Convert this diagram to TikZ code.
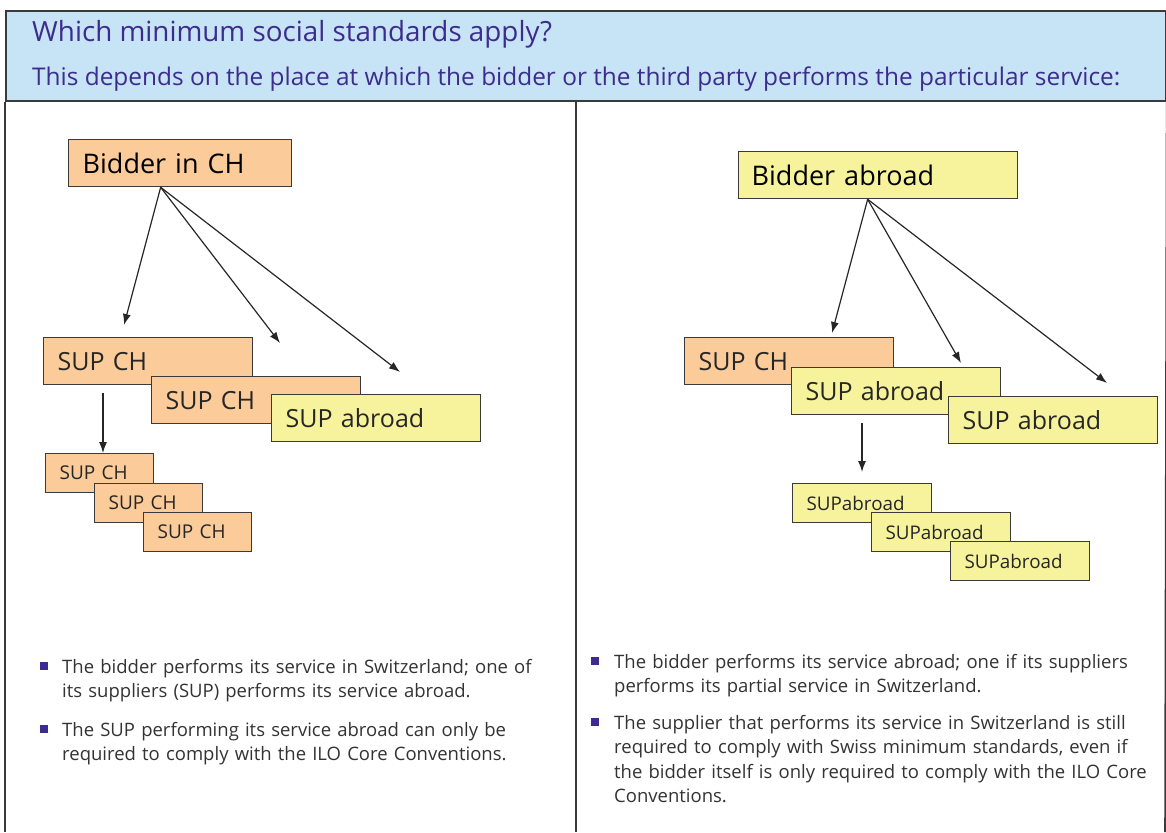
\documentclass[tikz,border=0pt]{standalone}
\usepackage{fontspec}
\setmainfont{Open Sans}
\usetikzlibrary{arrows.meta,positioning}

\definecolor{peach}{HTML}{FBCB9A}
\definecolor{lemon}{HTML}{F7F39C}
\definecolor{skyband}{HTML}{C6E4F5}
\definecolor{indigo}{HTML}{3D2B8E}
\definecolor{edge}{HTML}{3A3A3A}

\tikzset{
  box/.style={rectangle, draw=edge, line width=1.3pt, anchor=north west, inner xsep=14pt, inner ysep=0pt, align=left, text=black!85},
  bigbox/.style={box, minimum height=47pt, font=\fontsize{25}{29}\selectfont},
  smallbox/.style={box, minimum height=39pt, font=\fontsize{19}{22}\selectfont},
  headbox/.style={box, minimum height=47pt, text=black, font=\fontsize{27}{31}\selectfont},
  link/.style={-{Latex[length=11pt,width=8pt]}, line width=1.2pt, black!85},
  bullettext/.style={anchor=north west, inner sep=0pt, align=left, text width=#1, font=\fontsize{18.5}{24.5}\selectfont, text=black!80},
  bulletsq/.style={rectangle, fill=indigo, minimum size=8pt, inner sep=0pt}
}

\begin{document}
\begin{tikzpicture}[x=1pt,y=-1pt]
  \useasboundingbox (0,0) rectangle (1166,832);

  % header band and the two panels
  \node [rectangle, draw=edge, line width=1.6pt, fill=skyband, anchor=north west, minimum width=1160pt, minimum height=90pt, inner sep=0pt] (header) at (5,10) {};
  \node [anchor=west, inner sep=0pt, text=indigo, font=\fontsize{27.8}{32}\selectfont] (title) at (32,34) {Which minimum social standards apply?};
  \node [anchor=west, inner sep=0pt, text=indigo, font=\fontsize{24.4}{28}\selectfont] (subtitle) at (32,79) {This depends on the place at which the bidder or the third party performs the particular service:};
  \draw [edge, line width=1.6pt] (header.south west) -- (5,832);
  \draw [edge, line width=1.6pt] (576,100) -- (576,832);
  \draw [edge, line width=1.6pt] (header.south east) -- (1165,832);

  % left: bidder in CH
  \node [headbox, fill=peach, text width=195pt] (bidderch) at (68,139) {Bidder in CH};
  \node [bigbox, fill=peach, text width=181pt] (supchA) at (43,337) {SUP CH};
  \node [bigbox, fill=peach, text width=181pt] (supchB) at (151,376) {SUP CH};
  \node [bigbox, fill=lemon, text width=181pt] (supabL) at (271,394) {SUP abroad};

  \node [smallbox, fill=peach, text width=80pt] (subchA) at (45,453) {SUP CH};
  \node [smallbox, fill=peach, text width=80pt] (subchB) at (94,483) {SUP CH};
  \node [smallbox, fill=peach, text width=80pt] (subchC) at (143,512) {SUP CH};

  \coordinate (tipchA) at (124,325);
  \coordinate (tipchB) at (280,343);
  \coordinate (tipchC) at (400,372);
  \coordinate (downch) at (103,393);

  \draw [link] ([xshift=-19.5pt]bidderch.south) -- (tipchA);
  \draw [link] ([xshift=-19.5pt]bidderch.south) -- (tipchB);
  \draw [link] ([xshift=-19.5pt]bidderch.south) -- (tipchC);
  \draw [link] (downch) -- (downch |- subchA.north);

  % right: bidder abroad
  \node [headbox, fill=lemon, text width=253pt, inner xsep=13pt] (bidderab) at (738,151) {Bidder abroad};
  \node [bigbox, fill=peach, text width=181pt] (supchR) at (684,337) {SUP CH};
  \node [bigbox, fill=lemon, text width=181pt] (supabA) at (791,367) {SUP abroad};
  \node [bigbox, fill=lemon, text width=181pt] (supabB) at (948,396) {SUP abroad};

  \node [smallbox, fill=lemon, text width=111pt, font=\fontsize{18.8}{22}\selectfont] (subabA) at (792,483) {SUPabroad};
  \node [smallbox, fill=lemon, text width=111pt, font=\fontsize{18.8}{22}\selectfont] (subabB) at (871,512) {SUPabroad};
  \node [smallbox, fill=lemon, text width=111pt, font=\fontsize{18.8}{22}\selectfont] (subabC) at (950,541) {SUPabroad};

  \coordinate (tipabA) at (832,333);
  \coordinate (tipabB) at (961,363);
  \coordinate (tipabC) at (1107,383);
  \coordinate (downab) at (862,423);
  \coordinate (endab) at (862,472);

  \draw [link] ([xshift=-10.5pt]bidderab.south) -- (tipabA);
  \draw [link] ([xshift=-10.5pt]bidderab.south) -- (tipabB);
  \draw [link] ([xshift=-10.5pt]bidderab.south) -- (tipabC);
  \draw [link] (downab) -- (endab);

  % bullet texts
  \node [bullettext=510pt] (noteL1) at (62,659) {The bidder performs its service in Switzerland; one of\\its suppliers (SUP) performs its service abroad.};
  \node [bullettext=510pt] (noteL2) at (62,722) {The SUP performing its service abroad can only be\\required to comply with the ILO Core Conventions.};
  \node [bullettext=548pt] (noteR1) at (614,654) {The bidder performs its service abroad; one if its suppliers\\performs its partial service in Switzerland.};
  \node [bullettext=548pt] (noteR2) at (614,715) {The supplier that performs its service in Switzerland is still\\required to comply with Swiss minimum standards, even if\\the bidder itself is only required to comply with the ILO Core\\Conventions.};

  \node [bulletsq] at (44,666) {};
  \node [bulletsq] at (44,729) {};
  \node [bulletsq] at (595,661) {};
  \node [bulletsq] at (595,722) {};
\end{tikzpicture}
\end{document}
